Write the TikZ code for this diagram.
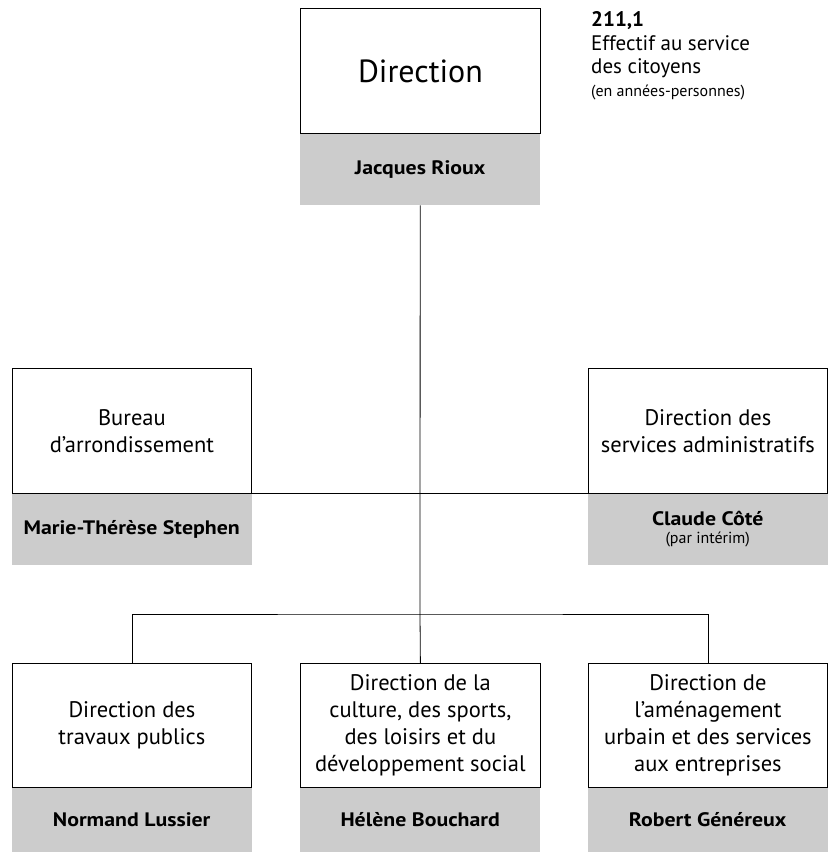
\documentclass[tikz,border=0pt]{standalone}
\usepackage{fontspec}
\setmainfont{PT Sans}
\newfontfamily\namefont{PT Sans}[UprightFont=* Bold, FakeStretch=1.12]
\definecolor{namegray}{RGB}{204,204,204}
\begin{document}
\begin{tikzpicture}[x=1pt,y=-1pt,
  wbox/.style={draw=black, line width=0.8pt, fill=white, minimum width=239pt, minimum height=125pt,
    inner sep=0pt, anchor=north west, align=center,
    font=\fontsize{22.5}{27}\selectfont},
  gbox/.style={fill=namegray, minimum width=240pt, minimum height=72pt, inner sep=0pt,
    anchor=north west, align=center, font=\fontsize{19.5}{20}\namefont},
  link/.style={draw=black, line width=0.8pt}
]
\useasboundingbox (0,0) rectangle (830,852);

% top
\node[gbox] (topg) at (300,133) {Jacques Rioux};
\node[wbox, minimum width=240pt, font=\fontsize{32}{36}\selectfont] (top) at (300,8) {Direction};

% middle
\node[gbox] (leftg) at (11.5,493) {Marie-Thérèse Stephen};
\node[wbox] (left) at (12,368) {Bureau\\d’arrondissement};
\node[gbox] (rightg) at (587.5,493) {Claude Côté\\[-2pt]{\normalfont\fontsize{16}{18}\selectfont (par intérim)}};
\node[wbox] (right) at (588,368) {Direction des\\services administratifs};

% bottom
\node[gbox, minimum height=65pt] (b1g) at (11.5,787) {Normand Lussier};
\node[wbox, minimum height=124pt] (b1) at (12,663) {Direction des\\travaux publics};
\node[gbox, minimum height=65pt] (b2g) at (300,787) {Hélène Bouchard};
\node[wbox, minimum height=124pt, minimum width=240pt] (b2) at (300,663) {Direction de la\\culture, des sports,\\des loisirs et du\\développement social};
\node[gbox, minimum height=65pt] (b3g) at (587.5,787) {Robert Généreux};
\node[wbox, minimum height=124pt] (b3) at (588,663) {Direction de\\l’aménagement\\urbain et des services\\aux entreprises};

% info text
\node[anchor=north west, inner sep=0pt, align=left, font=\fontsize{21}{23.5}\selectfont] (info) at (591,11.5)
  {\textbf{211,1}\\Effectif au service\\des citoyens\\[-1pt]{\fontsize{16}{18}\selectfont (en années-personnes)}};

% connectors
\coordinate (jn) at (420,614);
\draw[link] (topg.south) -- (jn);
\draw[link] (left.south east) -- (right.south west);
\draw[link] (b1.north) |- (jn) -| (b3.north);
\draw[link] (jn) -- (b2.north);
\end{tikzpicture}
\end{document}
